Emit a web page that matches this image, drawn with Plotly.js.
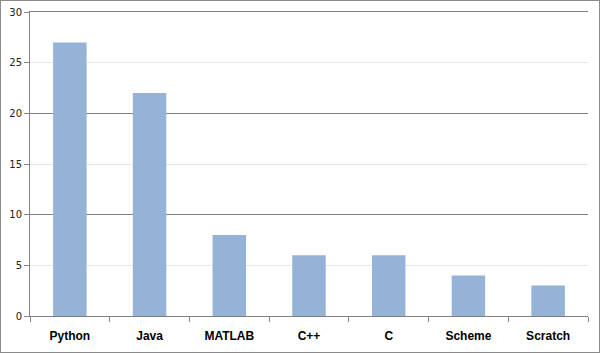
<!DOCTYPE html>
<html><head><meta charset="utf-8">
<script src="https://cdn.plot.ly/plotly-3.0.1.min.js"></script>
<style>
html,body{margin:0;padding:0;background:#fff;}
#chart{width:598px;height:351px;border:1px solid #8a8a8a;}
</style></head>
<body><div id="chart"></div>
<script>
const languages = ["Python","Java","MATLAB","C++","C","Scheme","Scratch"];
const counts = [27,22,8,6,6,4,3];
const yTicks = [0,5,10,15,20,25,30];
const majorGrid = [0,10,20,30];
const minorGrid = [5,15,25];

const data = [
  {type:'scatter', x:[languages[0]], y:[0], mode:'markers', marker:{opacity:0}, hoverinfo:'skip'},
  {type:'bar', x:languages, y:counts, yaxis:'y2', marker:{color:'#95b3d7', line:{width:0}}, width:0.42}
];
const layout = {
  width:598, height:351,
  margin:{l:29,r:11,t:11,b:36},
  paper_bgcolor:'#fff', plot_bgcolor:'#fff',
  showlegend:false,
  xaxis:{
    type:'category', showline:true, mirror:true, linecolor:'#808080', linewidth:1,
    ticks:'outside', tickson:'boundaries', ticklen:5, tickcolor:'#868686',
    showgrid:false, zeroline:false, ticklabelstandoff:9,
    tickfont:{family:'Liberation Sans', size:12, color:'#000', weight:'bold'}
  },
  yaxis:{
    range:[0,30], tickvals:majorGrid, showticklabels:false, ticks:'',
    showline:true, linecolor:'#868686', linewidth:1,
    showgrid:true, gridcolor:'#7f7f7f', gridwidth:1, zeroline:false,
    minor:{tickvals:minorGrid, showgrid:true, gridcolor:'#e6e6e6', ticks:''}
  },
  yaxis2:{
    overlaying:'y', side:'left', range:[0,30], tickvals:yTicks, ticktext:yTicks.map(String),
    ticks:'outside', ticklen:5, tickcolor:'#868686',
    showgrid:false, zeroline:false, showline:false,
    tickfont:{family:'DejaVu Sans', size:10, color:'#222'}
  }
};
Plotly.newPlot('chart', data, layout, {displayModeBar:false, staticPlot:true});
</script></body></html>
